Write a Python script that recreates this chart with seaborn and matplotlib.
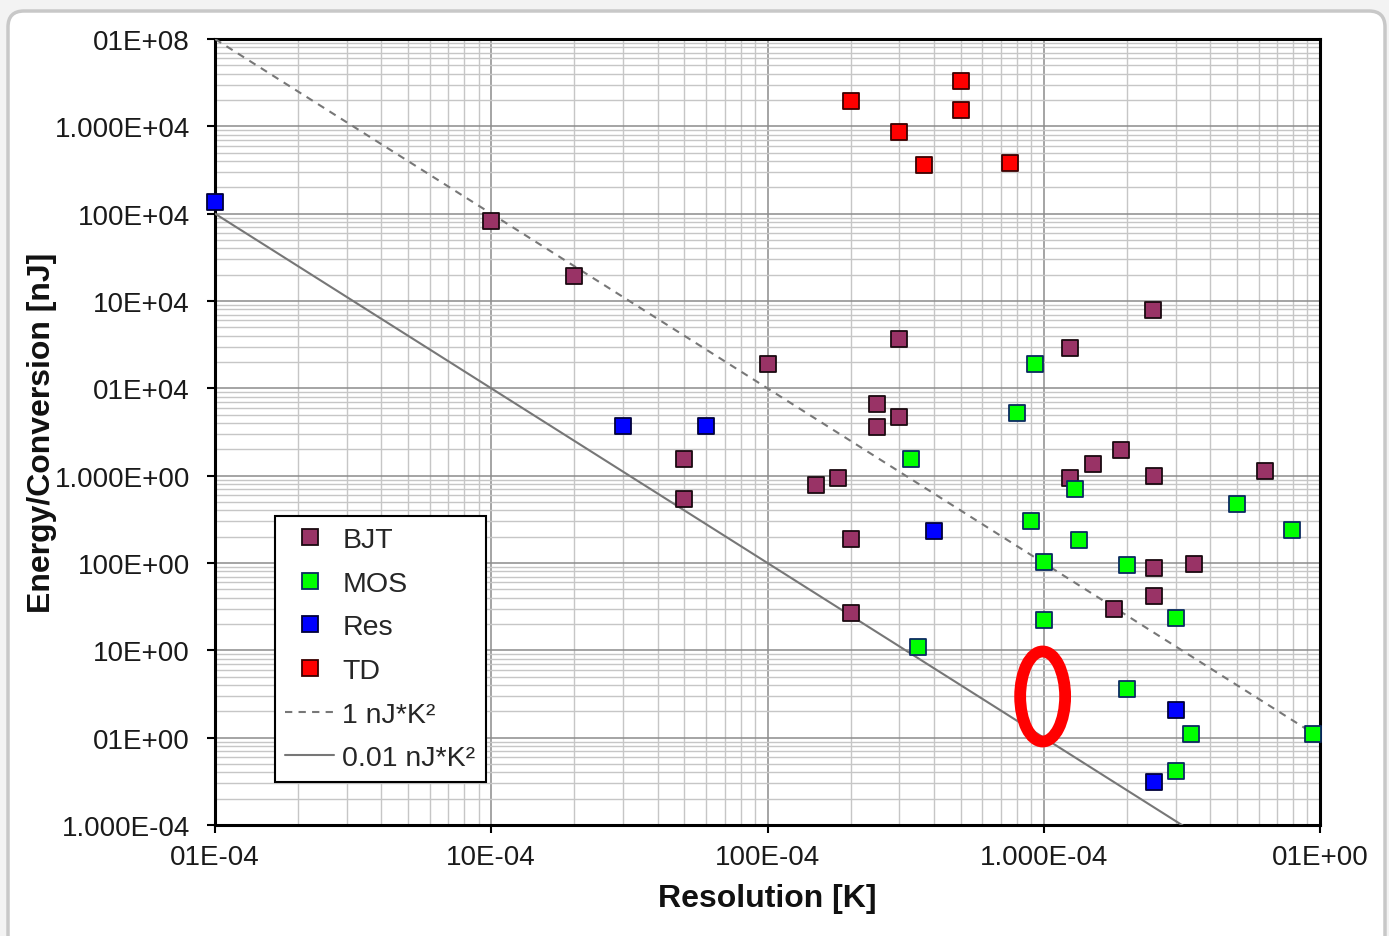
import numpy as np
import pandas as pd
import matplotlib
matplotlib.use("Agg")
import matplotlib.pyplot as plt
import matplotlib.ticker as mticker
import matplotlib.transforms as mtransforms
import seaborn as sns
from matplotlib.patches import Ellipse, FancyBboxPatch
from matplotlib.lines import Line2D

# ---------------- data (Resolution [K], Energy/Conversion [nJ]) ----------------
bjt_x = [1.0e-3, 2.0e-3, 1.0e-2, 0.030, 0.025, 0.025, 0.030, 5.0e-3, 5.0e-3, 0.015,
         0.018, 0.020, 0.020, 0.124, 0.249, 0.124, 0.151, 0.19, 0.25, 0.25,
         0.25, 0.18, 0.35, 0.63]
bjt_y = [8.3e5, 1.95e5, 1.9e4, 3.7e4, 6.6e3, 3.6e3, 4.7e3, 1.55e3, 540, 780,
         930, 190, 27, 2.9e4, 7.8e4, 930, 1350, 1950, 1000, 87,
         42, 30, 98, 1120]

mos_x = [0.093, 0.080, 0.033, 0.13, 0.09, 0.134, 0.10, 0.20, 0.10, 0.035,
         0.30, 0.50, 0.79, 0.20, 0.34, 0.30, 0.94]
mos_y = [1.9e4, 5.2e3, 1.55e3, 710, 305, 182, 104, 95, 22, 11,
         23.7, 470, 240, 3.6, 1.09, 0.41, 1.09]

res_x = [1.0e-4, 3.0e-3, 6.0e-3, 0.040, 0.30, 0.25]
res_y = [1.36e6, 3.7e3, 3.7e3, 230, 2.05, 0.31]

td_x = [0.020, 0.050, 0.050, 0.030, 0.037, 0.0755]
td_y = [1.95e7, 3.3e7, 1.55e7, 8.7e6, 3.6e6, 3.8e6]

# reference lines E = k / T^2
fom_x = [1.0e-4, 1.0]
fom_k = [1.0, 0.01]
fom_labels = ["1 nJ*K\u00b2", "0.01 nJ*K\u00b2"]

x_ticks = [1e-4, 1e-3, 1e-2, 1e-1, 1e0]
x_ticklabels = ["01E-04", "10E-04", "100E-04", "1.000E-04", "01E+00"]
y_ticks = [1e-1, 1e0, 1e1, 1e2, 1e3, 1e4, 1e5, 1e6, 1e7, 1e8]
y_ticklabels = ["1.000E-04", "01E+00", "10E+00", "100E+00", "1.000E+00",
                "01E+04", "10E+04", "100E+04", "1.000E+04", "01E+08"]

series = [
    ("BJT", bjt_x, bjt_y, "#993366", "#1a0a10"),
    ("MOS", mos_x, mos_y, "#00ff00", "#0a2a60"),
    ("Res", res_x, res_y, "#0000ff", "#00003a"),
    ("TD", td_x, td_y, "#ff0000", "#3a0000"),
]

# ---------------- style ----------------
sns.set_theme(style="white")
plt.rcParams['font.family'] = ['Liberation Sans', 'DejaVu Sans']

fig = plt.figure(figsize=(13.89, 9.37), dpi=100, facecolor="#f3f3f3")
panel = FancyBboxPatch((8, -20), 1377, 945,
                       boxstyle="round,pad=0,rounding_size=16",
                       transform=mtransforms.IdentityTransform(),
                       facecolor="white", edgecolor="#c8c8c8", linewidth=2.5,
                       zorder=-10)
fig.patches.append(panel)

ax = fig.add_axes([215/1389, 1 - 826/937, 1105/1389, 786/937])
ax.set_zorder(1)
ax.set_facecolor("white")
ax.set_xscale("log")
ax.set_yscale("log")

# reference lines
line_handles = []
for k, lab, ls in zip(fom_k, fom_labels, [(0, (3.5, 3)), "-"]):
    df = pd.DataFrame({"x": fom_x, "y": [k / (v * v) for v in fom_x]})
    sns.lineplot(data=df, x="x", y="y", ax=ax, color="#777777",
                 linewidth=1.5, linestyle=ls, zorder=3, legend=False)
    line_handles.append(Line2D([], [], color="#777777", linewidth=1.5,
                               linestyle=ls, label=lab))

marker_handles = []
for name, xs, ys, fc, ec in series:
    df = pd.DataFrame({"x": xs, "y": ys})
    sns.scatterplot(data=df, x="x", y="y", ax=ax, marker="s", s=130,
                    color=fc, edgecolor=ec, linewidth=1.3, zorder=5,
                    legend=False, clip_on=False)
    marker_handles.append(Line2D([], [], linestyle="none", marker="s",
                                 markersize=11, markerfacecolor=fc,
                                 markeredgecolor=ec, markeredgewidth=1.3,
                                 label=name))

ax.set_xlim(1e-4, 1)
ax.set_ylim(1e-1, 1e8)

ax.set_xticks(x_ticks)
ax.set_xticklabels(x_ticklabels)
ax.set_yticks(y_ticks)
ax.set_yticklabels(y_ticklabels)
ax.xaxis.set_minor_locator(mticker.LogLocator(base=10, subs=np.arange(2, 10), numticks=50))
ax.yaxis.set_minor_locator(mticker.LogLocator(base=10, subs=np.arange(2, 10), numticks=50))
ax.xaxis.set_minor_formatter(mticker.NullFormatter())
ax.yaxis.set_minor_formatter(mticker.NullFormatter())

ax.grid(which="major", color="#8c8c8c", linewidth=1.1)
ax.grid(which="minor", color="#c6c6c6", linewidth=1.0)
ax.set_axisbelow(True)

ax.tick_params(which="major", direction="out", length=6, width=1.5,
               color="black", labelsize=20, labelcolor="#1a1a1a",
               left=True, bottom=True)
ax.tick_params(axis="y", which="major", pad=12)
ax.tick_params(axis="x", which="major", pad=8)
ax.tick_params(which="minor", length=0)

for sp in ax.spines.values():
    sp.set_color("black")
    sp.set_linewidth(2.2)

ax.set_xlabel("Resolution [K]", fontsize=23, fontweight="bold", color="#111111")
ax.set_ylabel("Energy/Conversion [nJ]", fontsize=23, fontweight="bold", color="#111111")
ax.xaxis.set_label_coords(0.5, -0.074)
ax.yaxis.set_label_coords(-0.143, 0.5)

leg = ax.legend(handles=marker_handles + line_handles, loc="upper left",
                bbox_to_anchor=(0.054, 0.393), fontsize=20.5, frameon=True,
                fancybox=False, edgecolor="black", framealpha=1,
                handlelength=1.7, handletextpad=0.3, labelspacing=0.62,
                borderpad=0.38, borderaxespad=0)
leg.get_frame().set_linewidth(1.5)
leg.set_zorder(7)

# red highlight ellipse
ax.add_patch(Ellipse((0.749, 0.1635), 0.0407, 0.1145, transform=ax.transAxes,
                     fill=False, edgecolor="#ff0000", linewidth=8.5, zorder=8,
                     clip_on=False))

fig.savefig("out.png", dpi=100, facecolor=fig.get_facecolor())
